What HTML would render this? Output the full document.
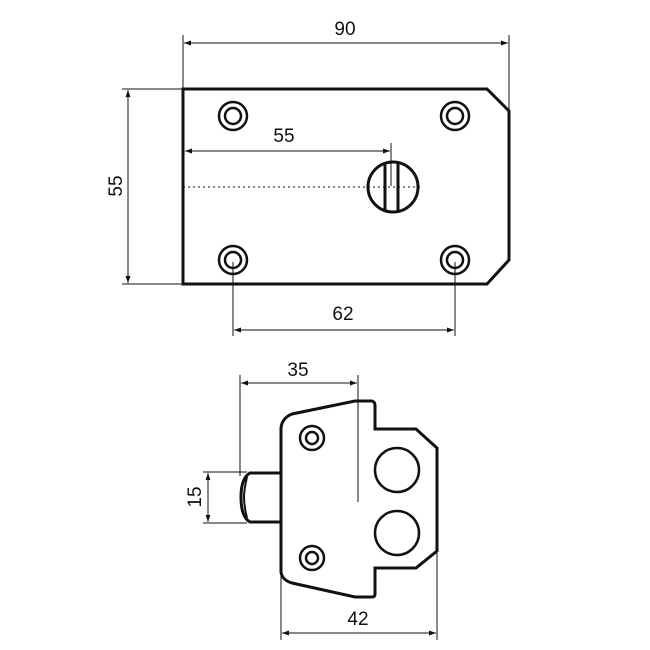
<!DOCTYPE html>
<html><head><meta charset="utf-8"><style>
html,body{margin:0;padding:0;background:#fff;}
svg{display:block;}
text{font-family:"Liberation Sans",sans-serif;font-size:19px;fill:#111;}
</style></head><body>
<svg width="650" height="650" viewBox="0 0 650 650" xmlns="http://www.w3.org/2000/svg">
<defs>
<marker id="a" viewBox="0 0 10 10" refX="10" refY="5" markerWidth="10" markerHeight="7" orient="auto-start-reverse" markerUnits="userSpaceOnUse">
<path d="M0,1.5 L10,5 L0,8.5 Z" fill="#111"/></marker>
</defs>
<g stroke="#111" fill="none">
<path d="M183,89 L487,89 L509,111 L509,260 L487,284 L183,284 Z" stroke-width="3"/>
<g stroke-width="1">
<line x1="183" y1="35" x2="183" y2="89"/>
<line x1="509" y1="35" x2="509" y2="111"/>
<line x1="184" y1="43" x2="508" y2="43" marker-start="url(#a)" marker-end="url(#a)"/>
<line x1="122" y1="89" x2="183" y2="89"/>
<line x1="122" y1="284" x2="183" y2="284"/>
<line x1="128" y1="90" x2="128" y2="283" marker-start="url(#a)" marker-end="url(#a)"/>
<line x1="185" y1="151" x2="390" y2="151" marker-start="url(#a)" marker-end="url(#a)"/>
<line x1="391" y1="143" x2="391" y2="186"/>
<line x1="183" y1="187" x2="422" y2="187" stroke-dasharray="2,3"/>
<line x1="233" y1="262" x2="233" y2="336"/>
<line x1="455" y1="262" x2="455" y2="336"/>
<line x1="234" y1="330" x2="454" y2="330" marker-start="url(#a)" marker-end="url(#a)"/>
</g>
<g stroke-width="2.5">
<circle cx="233" cy="116" r="14"/><circle cx="233" cy="116" r="8"/>
<circle cx="455" cy="116" r="14"/><circle cx="455" cy="116" r="8"/>
<circle cx="233" cy="260" r="14"/><circle cx="233" cy="260" r="8"/>
<circle cx="455" cy="260" r="14"/><circle cx="455" cy="260" r="8"/>
<circle cx="393" cy="187" r="25" stroke-width="3"/>
<line x1="385" y1="163" x2="385" y2="211" stroke-width="3"/>
<line x1="398" y1="163" x2="398" y2="211" stroke-width="3"/>
</g>
<path d="M281,572 L281,428 Q282,418 292,414 L355,401 L372,401 Q375,402 375,405 L375,429 L416,429 L437,448 L437,551 L416,568 L375,568 L375,594 Q375,597 372,597 L355,597 L292,583 Q282,580 281,572 Z" stroke-width="3"/>
<path d="M281,473 L250,473 Q241,478 241,497 Q241,517 250,522 L281,522" stroke-width="3"/>
<path d="M247,477 Q244,490 244,497 Q244,506 247,518" stroke-width="2"/>
<g stroke-width="1">
<line x1="240" y1="375" x2="240" y2="476"/>
<line x1="358" y1="375" x2="358" y2="502"/>
<line x1="241" y1="383" x2="357" y2="383" marker-start="url(#a)" marker-end="url(#a)"/>
<line x1="203" y1="472" x2="247" y2="472"/>
<line x1="203" y1="523" x2="247" y2="523"/>
<line x1="208" y1="473" x2="208" y2="522" marker-start="url(#a)" marker-end="url(#a)"/>
<line x1="281" y1="574" x2="281" y2="640"/>
<line x1="437" y1="553" x2="437" y2="640"/>
<line x1="282" y1="633" x2="436" y2="633" marker-start="url(#a)" marker-end="url(#a)"/>
</g>
<g stroke-width="2.5">
<circle cx="312" cy="438" r="12"/><circle cx="312" cy="438" r="6"/>
<circle cx="312" cy="558" r="12"/><circle cx="312" cy="558" r="6"/>
<circle cx="397" cy="470" r="22"/>
<circle cx="397" cy="533" r="22"/>
</g>
</g>
<text x="345" y="35" text-anchor="middle">90</text>
<text x="284" y="142" text-anchor="middle">55</text>
<text x="343" y="320" text-anchor="middle">62</text>
<text transform="translate(122,186) rotate(-90)" text-anchor="middle">55</text>
<text x="298" y="376" text-anchor="middle">35</text>
<text transform="translate(201,497) rotate(-90)" text-anchor="middle">15</text>
<text x="358" y="625" text-anchor="middle">42</text>
</svg>
</body></html>
